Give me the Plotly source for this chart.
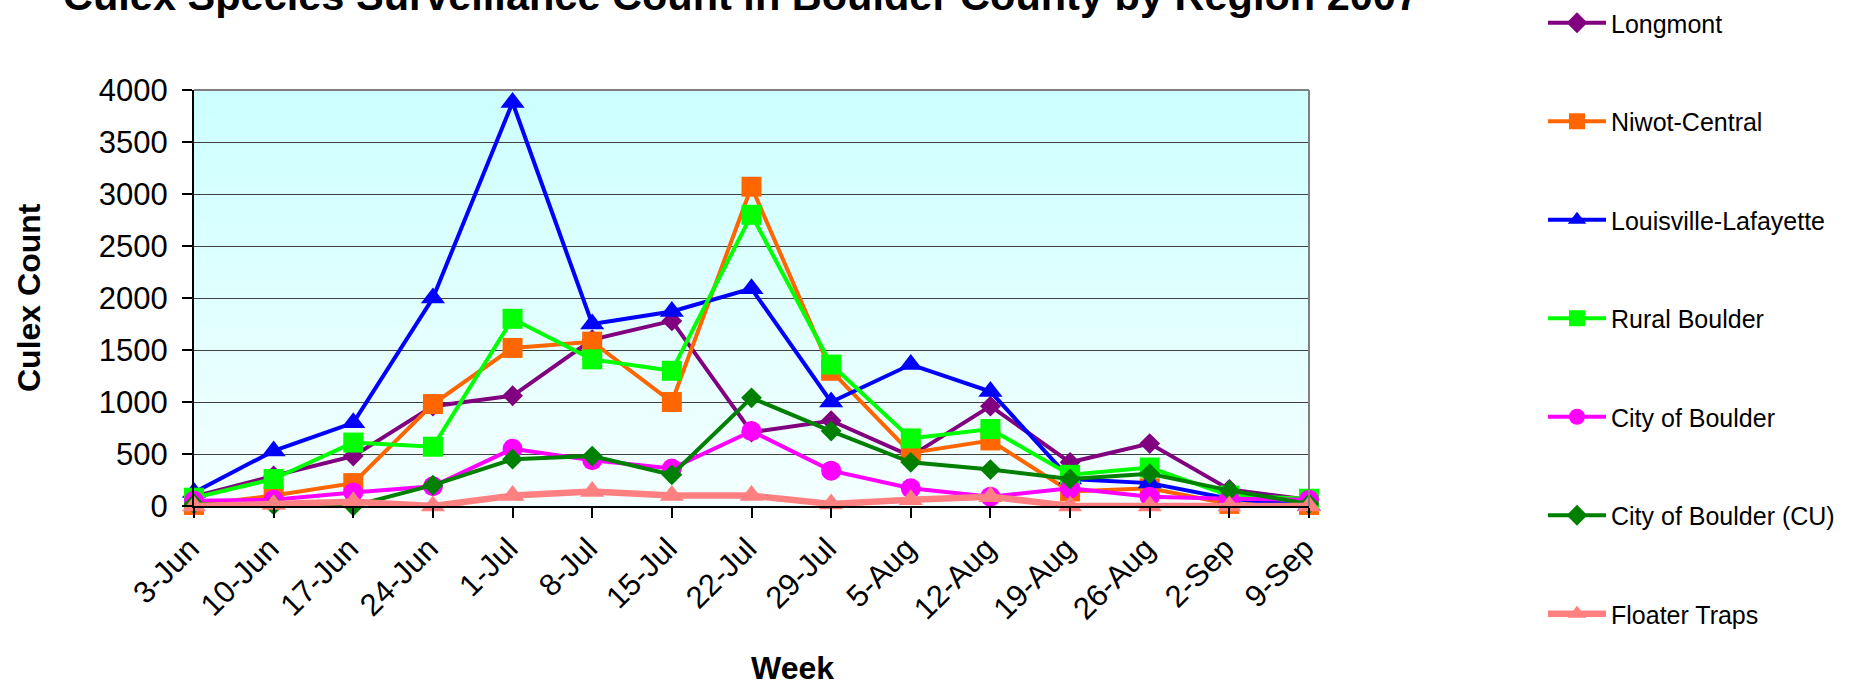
import plotly.graph_objects as go

# ---------------- data ----------------
categories = ["3-Jun", "10-Jun", "17-Jun", "24-Jun", "1-Jul", "8-Jul", "15-Jul",
              "22-Jul", "29-Jul", "5-Aug", "12-Aug", "19-Aug", "26-Aug", "2-Sep", "9-Sep"]

longmont = [90, 290, 480, 960, 1060, 1600, 1780, 710, 820, 480, 960, 420, 600, 160, 60]
niwot_central = [10, 100, 220, 980, 1520, 1580, 1000, 3070, 1300, 510, 630, 140, 170, 20, 10]
louisville_lafayette = [130, 530, 800, 2000, 3880, 1750, 1870, 2090, 1000, 1360, 1100, 260, 220, 70, 5]
rural_boulder = [80, 260, 610, 570, 1800, 1410, 1300, 2800, 1360, 650, 740, 300, 370, 100, 70]
city_of_boulder = [50, 60, 130, 190, 550, 440, 360, 720, 340, 170, 90, 170, 90, 70, 60]
city_of_boulder_cu = [20, 10, 0, 200, 450, 480, 300, 1040, 720, 420, 350, 260, 310, 150, 20]
floater_traps = [0, 15, 40, 0, 100, 140, 100, 100, 20, 60, 90, 0, 0, 0, 0]

series_names = ["Longmont", "Niwot-Central", "Louisville-Lafayette", "Rural Boulder",
                "City of Boulder", "City of Boulder (CU)", "Floater Traps"]
series_values = [longmont, niwot_central, louisville_lafayette, rural_boulder,
                 city_of_boulder, city_of_boulder_cu, floater_traps]

title_text = "Culex Species Surveillance Count in Boulder County by Region 2007"
y_title = "Culex Count"
x_title = "Week"

# ---------------- styles ----------------
colors = ["#800080", "#FF6600", "#0000FF", "#00FF00", "#FF00FF", "#008000", "#FF8080"]
symbols = ["diamond", "square", "triangle-up", "square", "circle", "diamond", "triangle-up"]
msizes = [16, 20, 21, 20, 20, 16, 21]
lwidths = [4, 4, 4, 4, 4, 4, 6.5]

FONT = "Liberation Sans, Arial, sans-serif"
W, H = 1858, 687
ML, MR, MT, MB = 194, 549, 90, 181

fig = go.Figure()
for name, vals, c, s, ms, lw in zip(series_names, series_values, colors, symbols, msizes, lwidths):
    fig.add_trace(go.Scatter(
        x=categories, y=vals, name=name, mode="lines+markers",
        line=dict(color=c, width=lw),
        marker=dict(symbol=s, size=ms, color=c, line=dict(width=0)),
        legendgroup=name, cliponaxis=False,
    ))

# gradient plot background (light cyan to near white)
shapes = []
N = 80
top = (204, 255, 255)
bot = (244, 255, 255)
for i in range(N):
    t = i / (N - 1)
    r = round(bot[0] + (top[0] - bot[0]) * t)
    g = round(bot[1] + (top[1] - bot[1]) * t)
    b = round(bot[2] + (top[2] - bot[2]) * t)
    shapes.append(dict(type="rect", xref="paper", yref="paper", x0=0, x1=1,
                       y0=i / N, y1=(i + 1) / N + 0.002, fillcolor=f"rgb({r},{g},{b})",
                       line=dict(width=0), layer="below"))
# top and right gray border
shapes.append(dict(type="line", xref="paper", yref="paper", x0=0, x1=1, y0=1, y1=1,
                   line=dict(color="#808080", width=2)))
shapes.append(dict(type="line", xref="paper", yref="paper", x0=1, x1=1, y0=0, y1=1,
                   line=dict(color="#808080", width=2)))

pw = W - ML - MR
ph = H - MT - MB

fig.update_layout(
    width=W, height=H,
    margin=dict(l=ML, r=MR, t=MT, b=MB, autoexpand=False),
    paper_bgcolor="white", plot_bgcolor="white",
    font=dict(family=FONT, color="black"),
    title=dict(text=title_text, font=dict(size=41.5, family=FONT, weight="bold", color="black"),
               x=741 / W, xref="container", xanchor="center",
               y=1 - 10 / H, yref="container", yanchor="bottom"),
    shapes=shapes,
    showlegend=True,
    legend=dict(xref="container", yref="container", x=1543 / W, y=1,
                xanchor="left", yanchor="top",
                font=dict(size=25, family=FONT), itemwidth=58, tracegroupgap=63,
                traceorder="grouped", bgcolor="rgba(0,0,0,0)", maxheight=H + 40),
    xaxis=dict(type="category", range=[0, 14], showgrid=False, zeroline=False,
               showline=True, linecolor="black", linewidth=2,
               ticks="outside", ticklen=10, tickcolor="black", tickwidth=1.5,
               tickangle=-45, tickfont=dict(size=31, family=FONT),
               ticklabelstandoff=0, ticklabelshift=-4),
    yaxis=dict(range=[0, 4000], dtick=500, showgrid=True, gridcolor="#404040", gridwidth=1,
               zeroline=False, showline=True, linecolor="black", linewidth=2,
               ticks="outside", ticklen=10, tickcolor="black", tickwidth=1.5,
               tickfont=dict(size=31, family=FONT), ticklabelstandoff=8),
    annotations=[
        dict(text=y_title, xref="paper", yref="paper", x=(29 - ML) / pw, y=0.5,
             xanchor="center", yanchor="middle", textangle=-90, showarrow=False,
             font=dict(size=32, family=FONT, weight="bold")),
        dict(text=x_title, xref="paper", yref="paper", x=(792.5 - ML) / pw,
             y=(MT + ph - 668) / ph, xanchor="center", yanchor="middle", showarrow=False,
             font=dict(size=32, family=FONT, weight="bold")),
    ],
)

fig.write_html("out.html", config={"displayModeBar": False},
               post_script="document.body.style.margin='0px';")
